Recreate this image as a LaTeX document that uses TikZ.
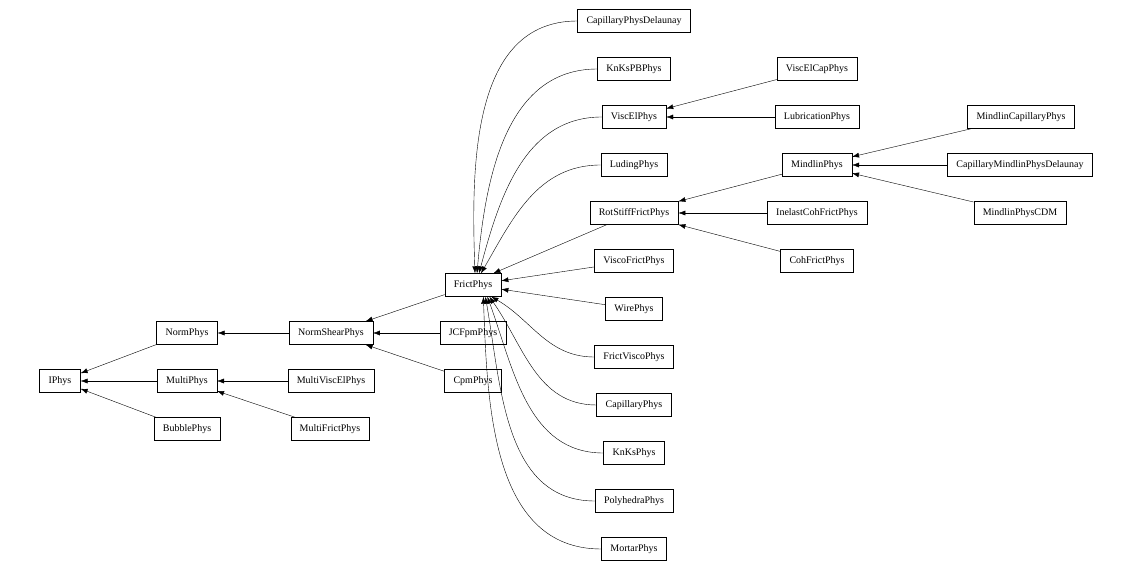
\documentclass[tikz,border=0pt]{standalone}
\usepackage{fontspec}
\setmainfont{Liberation Serif}
\usetikzlibrary{arrows.meta}
\begin{document}
\begin{tikzpicture}[x=1pt, y=-1pt,
   cls_style/.style={draw=black, rectangle, minimum height=23pt, inner xsep=9pt, font=\fontsize{10}{12}\selectfont},
   edge_style/.style={draw=black, thin, -{Latex[length=7pt,width=5pt]}}]
    \useasboundingbox (0,0) rectangle (1138,572);

    % base classes
    \node[cls_style] (iphys) at (60,381) {IPhys};
    \node[cls_style] (normphys) at (187,333) {NormPhys};
    \node[cls_style] (multiphys) at (187,381) {MultiPhys};
    \node[cls_style] (bubblephys) at (187,429) {BubblePhys};
    \node[cls_style] (normshear) at (331,333) {NormShearPhys};
    \node[cls_style] (multiviscel) at (331,381) {MultiViscElPhys};
    \node[cls_style] (multifrict) at (330,429) {MultiFrictPhys};
    \node[cls_style] (jcfpm) at (473,333) {JCFpmPhys};
    \node[cls_style] (cpm) at (473,381) {CpmPhys};
    \node[cls_style] (frict) at (473,285) {FrictPhys};

    % FrictPhys children
    \node[cls_style] (capdel) at (634,21) {CapillaryPhysDelaunay};
    \node[cls_style] (knkspb) at (634,69) {KnKsPBPhys};
    \node[cls_style] (viscel) at (634,117) {ViscElPhys};
    \node[cls_style] (luding) at (634,165) {LudingPhys};
    \node[cls_style] (rotstiff) at (634,213) {RotStiffFrictPhys};
    \node[cls_style] (viscofrict) at (634,261) {ViscoFrictPhys};
    \node[cls_style] (wire) at (634,309) {WirePhys};
    \node[cls_style] (frictvisco) at (634,357) {FrictViscoPhys};
    \node[cls_style] (capillary) at (634,405) {CapillaryPhys};
    \node[cls_style] (knks) at (634,453) {KnKsPhys};
    \node[cls_style] (polyhedra) at (634,501) {PolyhedraPhys};
    \node[cls_style] (mortar) at (634,549) {MortarPhys};

    \node[cls_style] (viscelcap) at (817,69) {ViscElCapPhys};
    \node[cls_style] (lubrication) at (817,117) {LubricationPhys};
    \node[cls_style] (mindlin) at (817,165) {MindlinPhys};
    \node[cls_style] (inelast) at (817,213) {InelastCohFrictPhys};
    \node[cls_style] (cohfrict) at (817,261) {CohFrictPhys};

    \node[cls_style] (mindlincap) at (1021,117) {MindlinCapillaryPhys};
    \node[cls_style] (capmindlin) at (1020,165) {CapillaryMindlinPhysDelaunay};
    \node[cls_style] (mindlincdm) at (1020,213) {MindlinPhysCDM};

    % straight edges
    \draw[edge_style] (normphys) -- (iphys);
    \draw[edge_style] (multiphys) -- (iphys);
    \draw[edge_style] (bubblephys) -- (iphys);
    \draw[edge_style] (normshear) -- (normphys);
    \draw[edge_style] (multiviscel) -- (multiphys);
    \draw[edge_style] (multifrict) -- (multiphys);
    \draw[edge_style] (jcfpm) -- (normshear);
    \draw[edge_style] (cpm) -- (normshear);
    \draw[edge_style] (frict) -- (normshear);
    \draw[edge_style] (viscelcap) -- (viscel);
    \draw[edge_style] (lubrication) -- (viscel);
    \draw[edge_style] (mindlin) -- (rotstiff);
    \draw[edge_style] (inelast) -- (rotstiff);
    \draw[edge_style] (cohfrict) -- (rotstiff);
    \draw[edge_style] (mindlincap) -- (mindlin);
    \draw[edge_style] (capmindlin) -- (mindlin);
    \draw[edge_style] (mindlincdm) -- (mindlin);

    % curved edges into FrictPhys
    \draw[edge_style] (capdel.west) to[out=180, in=92] ([xshift=2pt]frict.north);
    \draw[edge_style] (knkspb.west) to[out=180, in=85] ([xshift=4pt]frict.north);
    \draw[edge_style] (viscel.west) to[out=180, in=75] ([xshift=6pt]frict.north);
    \draw[edge_style] (luding.west) to[out=180, in=60] ([xshift=8pt]frict.north);
    \draw[edge_style] (rotstiff) -- ([xshift=-8pt]frict.north east);
    \draw[edge_style] (viscofrict) -- (frict);
    \draw[edge_style] (wire) -- (frict);
    \draw[edge_style] (frictvisco.west) to[out=180, in=-30] ([xshift=-10pt]frict.south east);
    \draw[edge_style] (capillary.west) to[out=180, in=-55] ([xshift=-12pt]frict.south east);
    \draw[edge_style] (knks.west) to[out=180, in=-70] ([xshift=-14pt]frict.south east);
    \draw[edge_style] (polyhedra.west) to[out=180, in=-80] ([xshift=-16pt]frict.south east);
    \draw[edge_style] (mortar.west) to[out=180, in=-88] ([xshift=-18pt]frict.south east);
\end{tikzpicture}
\end{document}
